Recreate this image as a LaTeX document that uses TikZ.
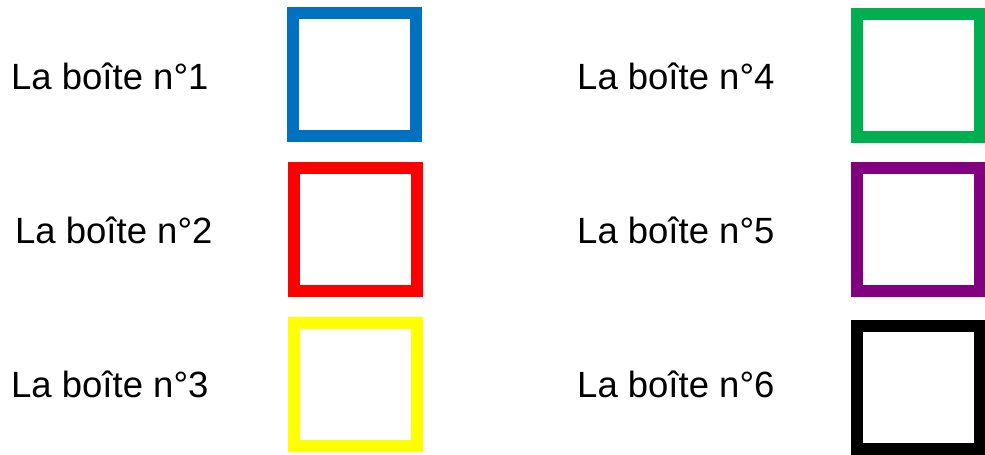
\documentclass[tikz,border=0pt]{standalone}
\usepackage{fontspec}
\setmainfont{Liberation Sans}
\definecolor{cblue}{HTML}{0070C0}
\definecolor{cred}{HTML}{FF0000}
\definecolor{cyellow}{HTML}{FFFF00}
\definecolor{cgreen}{HTML}{00B050}
\definecolor{cpurple}{HTML}{800080}
\definecolor{cblack}{HTML}{000000}
\tikzset{
  boite/.style={draw=#1, line width=12pt, minimum width=123pt, minimum height=123pt, inner sep=0pt, fill=white},
  lbl/.style={anchor=base west, inner sep=0pt, font=\fontsize{36.5}{40}\selectfont, text=black}
}
\begin{document}
\begin{tikzpicture}[x=1pt,y=-1pt]
\useasboundingbox[fill=white] (0,0) rectangle (985,455);
\node[lbl] (t1) at (11,89) {La boîte n°1};
\node[lbl] (t2) at (15,243) {La boîte n°2};
\node[lbl] (t3) at (11,397) {La boîte n°3};
\node[lbl] (t4) at (577,89) {La boîte n°4};
\node[lbl] (t5) at (577,243) {La boîte n°5};
\node[lbl] (t6) at (577,397) {La boîte n°6};
\node[boite=cblue] (b1) at (354.5,74.5) {};
\node[boite=cred] (b2) at (355,229) {};
\node[boite=cyellow] (b3) at (355,384) {};
\node[boite=cgreen] (b4) at (918.5,75.5) {};
\node[boite=cpurple] (b5) at (918.5,229) {};
\node[boite=cblack] (b6) at (918.5,387) {};
\end{tikzpicture}
\end{document}
